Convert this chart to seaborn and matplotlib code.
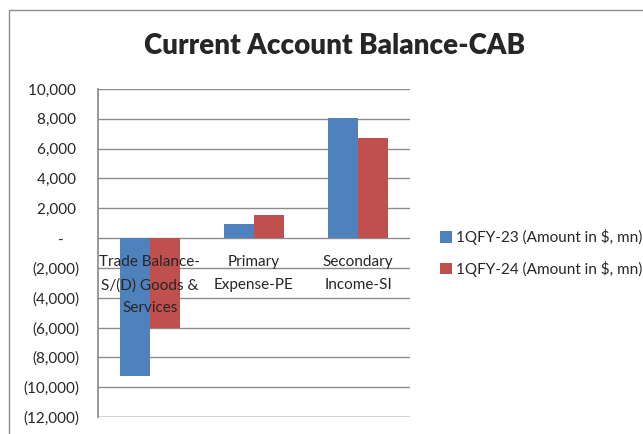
import pandas as pd
import matplotlib.pyplot as plt
import matplotlib.patches as patches
import seaborn as sns

# datos
categorias = ['Trade Balance-\nS/(D) Goods &\nServices', 'Primary\nExpense-PE', 'Secondary\nIncome-SI']
serie_23 = [-9250, 920, 8050]
serie_24 = [-6050, 1520, 6730]
nombres = ['1QFY-23 (Amount in $, mn)', '1QFY-24 (Amount in $, mn)']
ticks_y = [10000, 8000, 6000, 4000, 2000, 0, -2000, -4000, -6000, -8000, -10000, -12000]

df = pd.DataFrame({
    'categoria': categorias * 2,
    'valor': serie_23 + serie_24,
    'serie': [nombres[0]] * 3 + [nombres[1]] * 3,
})

sns.set_theme(style="white")
plt.rcParams['font.family'] = ['Lato', 'DejaVu Sans']

fig = plt.figure(figsize=(6.43, 4.34), dpi=100)
ax = fig.add_axes([0.152, 0.039, 0.486, 0.756])

sns.barplot(
    data=df, x='categoria', y='valor', hue='serie',
    palette=['#4F81BD', '#C0504D'], width=0.57, ax=ax,
    saturation=1, edgecolor='none'
)

ax.set_ylim(-12000, 10000)
ax.set_yticks(ticks_y)


def formato(v):
    if v == 0:
        return '-    '
    if v < 0:
        return f'({abs(v):,})'
    return f'{v:,} '


ax.set_yticklabels([formato(v) for v in ticks_y], fontsize=11)
ax.yaxis.grid(True, color='#8c8c8c', linewidth=1)
ax.set_axisbelow(True)
ax.tick_params(axis='y', length=0, pad=13)

# etiquetas de categoria encima de las barras, bajo el cero
ax.set_xticklabels([])
ax.tick_params(axis='x', length=0)
for i, cat in enumerate(categorias):
    ax.annotate(cat, xy=(i, 0), xytext=(0, -12.5), textcoords='offset points',
                ha='center', va='top', fontsize=11, linespacing=1.75, zorder=10)

ax.spines['bottom'].set_visible(False)
ax.spines['top'].set_visible(False)
ax.spines['right'].set_visible(False)
ax.spines['left'].set_color('#8c8c8c')
ax.set_xlabel('')
ax.set_ylabel('')

# linea inferior del area del grafico
ax.axhline(-12000, color='#8c8c8c', linewidth=1, zorder=0)

ax.legend(
    loc='center left', bbox_to_anchor=(1.05, 0.5), frameon=False,
    fontsize=11, handlelength=0.8, handleheight=0.8, labelspacing=1.0,
    handletextpad=0.3
)

fig.text(0.52, 0.895, 'Current Account Balance-CAB', ha='center', va='center',
         fontsize=20, fontweight='heavy')

# borde del area del grafico
fig.patches.append(patches.Rectangle(
    (9 / 643, -0.05), 1.0, 1 - 10 / 434 + 0.05, transform=fig.transFigure,
    fill=False, edgecolor='#8c8c8c', linewidth=1
))

plt.savefig('out.png', dpi=100)
